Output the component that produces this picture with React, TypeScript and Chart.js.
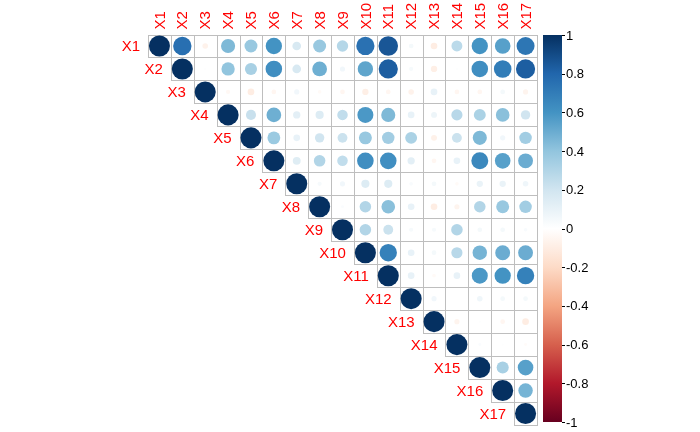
import React, { useEffect, useRef } from "react";
import { Chart, registerables } from "chart.js";

Chart.register(...registerables);

const varNames = ["X1","X2","X3","X4","X5","X6","X7","X8","X9","X10","X11","X12","X13","X14","X15","X16","X17"];

// upper-triangle correlations, each row starts at the diagonal
const rowX1 = [1, 0.76, -0.07, 0.45, 0.38, 0.6, 0.17, 0.38, 0.29, 0.75, 0.86, 0.05, -0.1, 0.27, 0.6, 0.55, 0.73];
const rowX2 = [1, 0.01, 0.4, 0.33, 0.62, 0.17, 0.49, 0.06, 0.53, 0.83, 0.04, -0.09, 0.01, 0.62, 0.7, 0.83];
const rowX3 = [1, -0.04, -0.1, -0.05, 0.06, -0.03, -0.05, -0.09, -0.05, -0.07, 0.1, -0.05, -0.05, 0.05, -0.06];
const rowX4 = [1, 0.23, 0.49, 0.12, 0.15, 0.25, 0.58, 0.45, 0.1, 0.08, 0.28, 0.32, 0.42, 0.2];
const rowX5 = [1, 0.37, 0.1, 0.2, 0.22, 0.38, 0.35, 0.32, -0.08, 0.22, 0.45, 0.06, 0.35];
const rowX6 = [1, 0.14, 0.3, 0.25, 0.62, 0.62, 0.12, -0.05, 0.1, 0.65, 0.55, 0.5];
const rowX7 = [1, 0.04, 0.06, 0.15, 0.15, 0.03, 0.05, -0.03, 0.09, 0.09, 0.07];
const rowX8 = [1, 0.02, 0.3, 0.42, 0.1, -0.1, -0.06, 0.3, 0.38, 0.35];
const rowX9 = [1, 0.3, 0.22, 0.04, 0.04, 0.3, 0.05, 0.05, 0.03];
const rowX10 = [1, 0.68, 0.1, 0.05, 0.28, 0.47, 0.5, 0.5];
const rowX11 = [1, 0.1, -0.03, 0.1, 0.58, 0.6, 0.68];
const rowX12 = [1, 0.06, 0.0, 0.07, 0.05, 0.05];
const rowX13 = [1, -0.06, 0.01, -0.05, -0.1];
const rowX14 = [1, 0.02, 0.01, -0.02];
const rowX15 = [1, 0.33, 0.55];
const rowX16 = [1, 0.47];
const rowX17 = [1];

const rows = [rowX1,rowX2,rowX3,rowX4,rowX5,rowX6,rowX7,rowX8,rowX9,rowX10,rowX11,rowX12,rowX13,rowX14,rowX15,rowX16,rowX17];

const legendTicks = [1, 0.8, 0.6, 0.4, 0.2, 0, -0.2, -0.4, -0.6, -0.8, -1];

// RdBu palette stops from -1 to 1
const paletteStops = ["#67001F","#B2182B","#D6604D","#F4A582","#FDDBC7","#FFFFFF","#D1E5F0","#92C5DE","#4393C3","#2166AC","#053061"];

function hexToRgb(h: string) {
  const n = parseInt(h.slice(1), 16);
  return [(n >> 16) & 255, (n >> 8) & 255, n & 255];
}
function colorFor(v: number) {
  const t = Math.max(0, Math.min(10, ((v + 1) / 2) * 10));
  const i = Math.min(9, Math.floor(t));
  const f = t - i;
  const a = hexToRgb(paletteStops[i]);
  const b = hexToRgb(paletteStops[i + 1]);
  const c = a.map((x, k) => Math.round(x + (b[k] - x) * f));
  return `rgb(${c[0]},${c[1]},${c[2]})`;
}

const FONT = "'Liberation Sans', Arial, sans-serif";

const corrPlugin = {
  id: "corrDecor",
  beforeDatasetsDraw(chart: any) {
    const { ctx } = chart;
    const xs = chart.scales.x;
    const ys = chart.scales.y;
    const n = varNames.length;
    ctx.save();
    ctx.strokeStyle = "#bebebe";
    ctx.lineWidth = 1;
    for (let i = 0; i < n; i++) {
      for (let j = i; j < n; j++) {
        const x0 = xs.getPixelForValue(j - 0.5);
        const x1 = xs.getPixelForValue(j + 0.5);
        const y0 = ys.getPixelForValue(i - 0.5);
        const y1 = ys.getPixelForValue(i + 0.5);
        ctx.strokeRect(Math.round(x0) + 0.5, Math.round(y0) + 0.5, Math.round(x1) - Math.round(x0), Math.round(y1) - Math.round(y0));
      }
    }
    ctx.restore();
  },
  afterDraw(chart: any) {
    const { ctx, chartArea } = chart;
    const xs = chart.scales.x;
    const ys = chart.scales.y;
    ctx.save();
    ctx.fillStyle = "#FF0000";
    ctx.font = `15px ${FONT}`;
    // top labels
    varNames.forEach((name, j) => {
      const x = xs.getPixelForValue(j);
      ctx.save();
      ctx.translate(x, chartArea.top - 5);
      ctx.rotate(-Math.PI / 2);
      ctx.textAlign = "left";
      ctx.textBaseline = "middle";
      ctx.fillText(name, 0, 1);
      ctx.restore();
    });
    // diagonal row labels
    varNames.forEach((name, i) => {
      const x = xs.getPixelForValue(i - 0.5) - 8;
      const y = ys.getPixelForValue(i);
      ctx.textAlign = "right";
      ctx.textBaseline = "middle";
      ctx.fillText(name, x, y + 1);
    });
    // color legend
    const bx0 = 543, bx1 = 562, by0 = 35, by1 = 422;
    const grad = ctx.createLinearGradient(0, by1, 0, by0);
    paletteStops.forEach((c, k) => grad.addColorStop(k / 10, c));
    ctx.fillStyle = grad;
    ctx.fillRect(bx0, by0, bx1 - bx0, by1 - by0);
    ctx.strokeStyle = "#000";
    ctx.lineWidth = 1;
    ctx.fillStyle = "#000";
    ctx.font = `13px ${FONT}`;
    ctx.textAlign = "left";
    ctx.textBaseline = "middle";
    legendTicks.forEach((v) => {
      const y = by1 - ((v + 1) / 2) * (by1 - by0);
      ctx.beginPath();
      ctx.moveTo(bx1, Math.round(y) + 0.5);
      ctx.lineTo(bx1 + 3, Math.round(y) + 0.5);
      ctx.stroke();
      ctx.fillText(String(v), bx1 + 4, y + 1);
    });
    ctx.restore();
  },
};

export default function App() {
  const ref = useRef<HTMLCanvasElement | null>(null);
  useEffect(() => {
    if (!ref.current) return;
    const points: { x: number; y: number; v: number }[] = [];
    rows.forEach((row, i) => {
      row.forEach((v, k) => points.push({ x: i + k, y: i, v }));
    });
    const chart = new Chart(ref.current, {
      type: "scatter",
      data: {
        datasets: [
          {
            data: points as any,
            pointRadius: (c: any) => {
              const p = c.raw;
              if (!p) return 0;
              const xs = c.chart.scales.x;
              const cell = Math.abs(xs.getPixelForValue(1) - xs.getPixelForValue(0));
              return Math.sqrt(Math.abs(p.v)) * cell * 0.46;
            },
            pointBackgroundColor: (c: any) => (c.raw ? colorFor(c.raw.v) : "#fff"),
            pointBorderColor: (c: any) => (c.raw ? colorFor(c.raw.v) : "#fff"),
            pointBorderWidth: 0,
          } as any,
        ],
      },
      options: {
        responsive: false,
        animation: false,
        events: [],
        devicePixelRatio: 1,
        layout: { padding: { left: 148, right: 163, top: 34.5, bottom: 7 } },
        plugins: { legend: { display: false }, tooltip: { enabled: false } },
        scales: {
          x: { type: "linear", min: -0.5, max: 16.5, display: false },
          y: { type: "linear", min: -0.5, max: 16.5, reverse: true, display: false },
        },
      },
      plugins: [corrPlugin],
    });
    return () => chart.destroy();
  }, []);
  return (
    <div style={{ position: "fixed", left: 0, top: 0, width: 700, height: 432, background: "#fff" }}>
      <canvas ref={ref} width={700} height={432} style={{ display: "block" }} />
    </div>
  );
}
